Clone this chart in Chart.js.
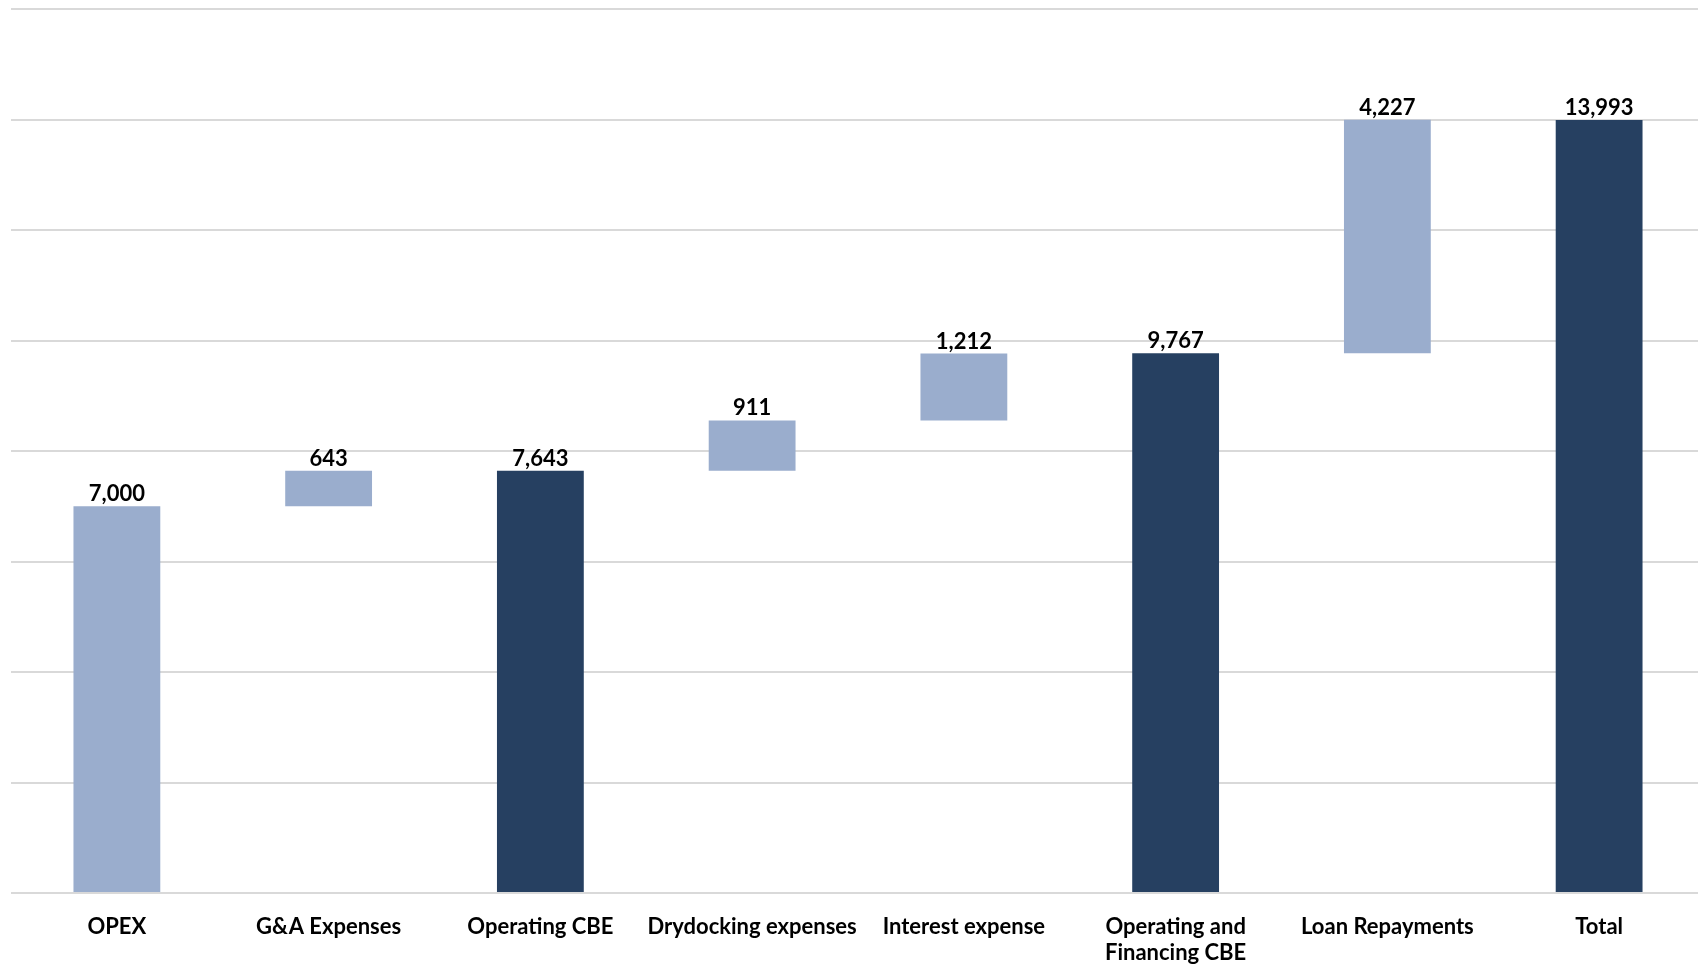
<!DOCTYPE html>
<html>
<head>
<meta charset="utf-8">
<script src="https://cdn.jsdelivr.net/npm/chart.js@4.4.0/dist/chart.umd.min.js"></script>
<style>
  html, body { margin: 0; padding: 0; background: #fff; overflow: hidden; }
  #wrap { width: 1705px; height: 966px; position: relative; }
</style>
</head>
<body>
<div id="wrap"><canvas id="grafico"></canvas></div>
<script>
const categorias = ['OPEX', 'G&A Expenses', 'Operating CBE', 'Drydocking expenses', 'Interest expense', ['Operating and', 'Financing CBE'], 'Loan Repayments', 'Total'];
const valores = [7000, 643, 7643, 911, 1212, 9767, 4227, 13993];
const ehTotal = [false, false, true, false, false, true, false, true];
const eixoMin = 0;
const eixoMax = 16000;
const passo = 2000;

const corClara = '#9AADCD';
const corEscura = '#264061';

// monta as barras flutuantes da cascata
let acumulado = 0;
const barras = valores.map((v, i) => {
  if (ehTotal[i]) {
    acumulado = v;
    return [0, v];
  }
  const inicio = acumulado;
  acumulado += v;
  return [inicio, acumulado];
});

const rotulos = {
  id: 'rotulos',
  afterDatasetsDraw(chart) {
    const ctx = chart.ctx;
    const meta = chart.getDatasetMeta(0);
    ctx.save();
    ctx.font = 'bold 22px Lato, "Open Sans", sans-serif';
    ctx.fillStyle = '#000';
    ctx.textAlign = 'center';
    ctx.textBaseline = 'bottom';
    meta.data.forEach((bar, i) => {
      ctx.fillText(valores[i].toLocaleString('en-US'), bar.x, bar.y - 1);
    });
    ctx.restore();
  }
};

new Chart(document.getElementById('grafico').getContext('2d'), {
  type: 'bar',
  data: {
    labels: categorias,
    datasets: [{
      data: barras,
      backgroundColor: ehTotal.map(t => t ? corEscura : corClara),
      borderWidth: 0,
      borderSkipped: false,
      categoryPercentage: 1,
      barPercentage: 0.41
    }]
  },
  options: {
    responsive: true,
    maintainAspectRatio: false,
    animation: false,
    layout: { padding: { left: 11, right: 0, top: 9, bottom: 0 } },
    plugins: {
      legend: { display: false },
      tooltip: { enabled: false }
    },
    scales: {
      y: {
        min: eixoMin,
        max: eixoMax,
        ticks: { display: false, stepSize: passo },
        border: { display: false },
        grid: { color: '#d9d9d9', lineWidth: 2, drawTicks: false }
      },
      x: {
        border: { display: false },
        grid: { display: false, drawTicks: false },
        afterFit: scale => { scale.height = 73; },
        ticks: {
          color: '#000',
          padding: 20,
          maxRotation: 0,
          autoSkip: false,
          font: { family: 'Lato, "Open Sans", sans-serif', size: 22, weight: 'bold', lineHeight: 1.22 }
        }
      }
    }
  },
  plugins: [rotulos]
});
</script>
</body>
</html>
